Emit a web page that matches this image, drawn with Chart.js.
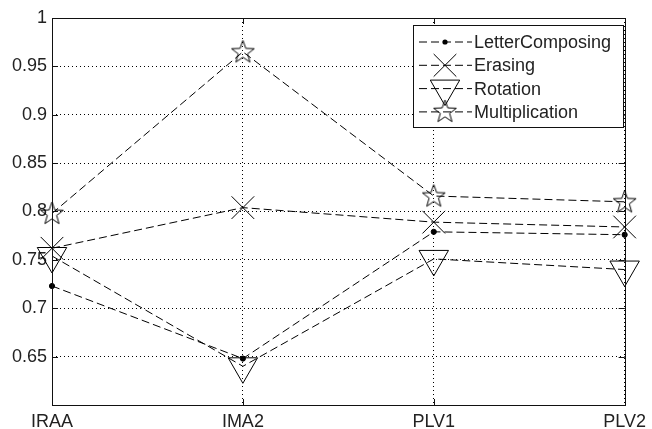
<!DOCTYPE html>
<html>
<head>
<meta charset="utf-8">
<script src="https://cdn.jsdelivr.net/npm/chart.js@4/dist/chart.umd.min.js"></script>
<style>
  html, body { margin: 0; padding: 0; background: #fff; }
  #box { width: 652px; height: 429px; }
</style>
</head>
<body>
<div id="box"><canvas id="grafico"></canvas></div>
<script>
const categorias = ['IRAA', 'IMA2', 'PLV1', 'PLV2']
const letterComposing = [0.723, 0.648, 0.779, 0.776]
const erasing = [0.762, 0.804, 0.789, 0.784]
const rotation = [0.754, 0.640, 0.751, 0.740]
const multiplication = [0.798, 0.965, 0.816, 0.810]
const ticksY = [0.65, 0.7, 0.75, 0.8, 0.85, 0.9, 0.95, 1]

const fonte = '"Liberation Sans", Arial, sans-serif'
const corTexto = '#222'

// pentagrama estilo matlab
const estrela = document.createElement('canvas')
estrela.width = 27
estrela.height = 27
;(() => {
  const c = estrela.getContext('2d')
  const cx = 13.5, cy = 14, R = 12, r = 4.9
  c.beginPath()
  for (let i = 0; i < 10; i++) {
    const a = -Math.PI / 2 + i * Math.PI / 5
    const rr = i % 2 === 0 ? R : r
    const px = cx + Math.cos(a) * rr, py = cy + Math.sin(a) * rr
    if (i === 0) c.moveTo(px, py); else c.lineTo(px, py)
  }
  c.closePath()
  c.strokeStyle = '#000'
  c.lineWidth = 1
  c.stroke()
})()

const serie = (label, data, estilo, raio, extra) => Object.assign({
  label: label,
  data: data,
  borderColor: '#000',
  borderWidth: 1,
  borderDash: [8, 4],
  pointStyle: estilo,
  pointRadius: raio,
  pointHoverRadius: raio,
  pointBorderColor: '#000',
  pointBackgroundColor: 'rgba(0,0,0,0)',
  pointBorderWidth: 1,
  tension: 0,
  fill: false
}, extra || {})

const datasets = [
  serie('LetterComposing', letterComposing, 'circle', 2.6, { pointBackgroundColor: '#000' }),
  serie('Erasing', erasing, 'crossRot', 16),
  serie('Rotation', rotation, 'triangle', 17, { pointRotation: 180 }),
  serie('Multiplication', multiplication, estrela, 12)
]

// caixa do eixo, ticks internos e legenda
const molduraPlugin = {
  id: 'moldura',
  afterDatasetsDraw(chart) {
    const ctx = chart.ctx
    const a = chart.chartArea
    const sx = chart.scales.x, sy = chart.scales.y
    ctx.save()
    ctx.strokeStyle = '#111'
    ctx.lineWidth = 1
    ctx.setLineDash([])
    ctx.strokeRect(Math.round(a.left) + 0.5, Math.round(a.top) + 0.5, Math.round(a.right - a.left), Math.round(a.bottom - a.top))
    ctx.beginPath()
    ticksY.forEach(v => {
      const y = Math.round(sy.getPixelForValue(v)) + 0.5
      ctx.moveTo(a.left, y); ctx.lineTo(a.left + 6, y)
      ctx.moveTo(a.right, y); ctx.lineTo(a.right - 6, y)
    })
    categorias.forEach((c, i) => {
      const x = Math.round(sx.getPixelForValue(i)) + 0.5
      ctx.moveTo(x, a.bottom); ctx.lineTo(x, a.bottom - 6)
      ctx.moveTo(x, a.top); ctx.lineTo(x, a.top + 6)
    })
    ctx.stroke()

    // legenda
    const lx = 413, ly = 25, lw = 210, lh = 102
    ctx.fillStyle = '#fff'
    ctx.fillRect(lx, ly, lw, lh)
    ctx.strokeStyle = '#111'
    ctx.strokeRect(lx + 0.5, ly + 0.5, lw, lh)
    ctx.font = '18px ' + fonte
    ctx.textBaseline = 'middle'
    datasets.forEach((ds, i) => {
      const yy = ly + 17 + i * 23.3
      const mx = 445
      ctx.strokeStyle = '#000'
      ctx.setLineDash([8, 4])
      ctx.beginPath()
      ctx.moveTo(419, yy); ctx.lineTo(472, yy)
      ctx.stroke()
      ctx.setLineDash([])
      if (ds.pointStyle instanceof HTMLCanvasElement) {
        ctx.drawImage(ds.pointStyle, mx - 13.5, yy - 14)
      } else if (ds.pointStyle === 'circle') {
        ctx.fillStyle = '#000'
        ctx.beginPath(); ctx.arc(mx, yy, 2.6, 0, Math.PI * 2); ctx.fill()
      } else if (ds.pointStyle === 'crossRot') {
        const d = ds.pointRadius * Math.SQRT1_2
        ctx.beginPath()
        ctx.moveTo(mx - d, yy - d); ctx.lineTo(mx + d, yy + d)
        ctx.moveTo(mx - d, yy + d); ctx.lineTo(mx + d, yy - d)
        ctx.stroke()
      } else if (ds.pointStyle === 'triangle') {
        const r = ds.pointRadius
        ctx.beginPath()
        ctx.moveTo(mx, yy + r)
        ctx.lineTo(mx - r * Math.sin(Math.PI / 3), yy - r / 2)
        ctx.lineTo(mx + r * Math.sin(Math.PI / 3), yy - r / 2)
        ctx.closePath()
        ctx.stroke()
      }
      ctx.fillStyle = corTexto
      ctx.fillText(ds.label, 474, yy + 1)
    })
    ctx.restore()
  }
}

let grafico = new Chart(document.getElementById('grafico'), {
  type: 'line',
  data: {
    labels: categorias,
    datasets: datasets
  },
  options: {
    responsive: true,
    maintainAspectRatio: false,
    animation: false,
    events: [],
    layout: { padding: { top: 17, right: 23, left: 0, bottom: 0 } },
    plugins: {
      legend: { display: false },
      tooltip: { enabled: false }
    },
    scales: {
      x: {
        type: 'category',
        offset: false,
        grid: {
          color: '#000',
          drawTicks: false
        },
        border: { display: false, dash: [1, 3] },
        ticks: {
          color: corTexto,
          font: { family: fonte, size: 18 },
          padding: 6,
          maxRotation: 0,
          autoSkip: false
        },
        afterFit(scale) { scale.height = 24 }
      },
      y: {
        min: 0.6,
        max: 1,
        grid: {
          color: '#000',
          drawTicks: false
        },
        border: { display: false, dash: [1, 3] },
        afterBuildTicks(scale) {
          scale.ticks = [0.6].concat(ticksY).map(v => ({ value: v }))
        },
        ticks: {
          color: corTexto,
          font: { family: fonte, size: 18 },
          padding: 5,
          callback: v => (v < 0.62 ? '' : String(+v.toFixed(2)))
        },
        afterFit(scale) { scale.width = 52 }
      }
    }
  },
  plugins: [molduraPlugin]
})
</script>
</body>
</html>
